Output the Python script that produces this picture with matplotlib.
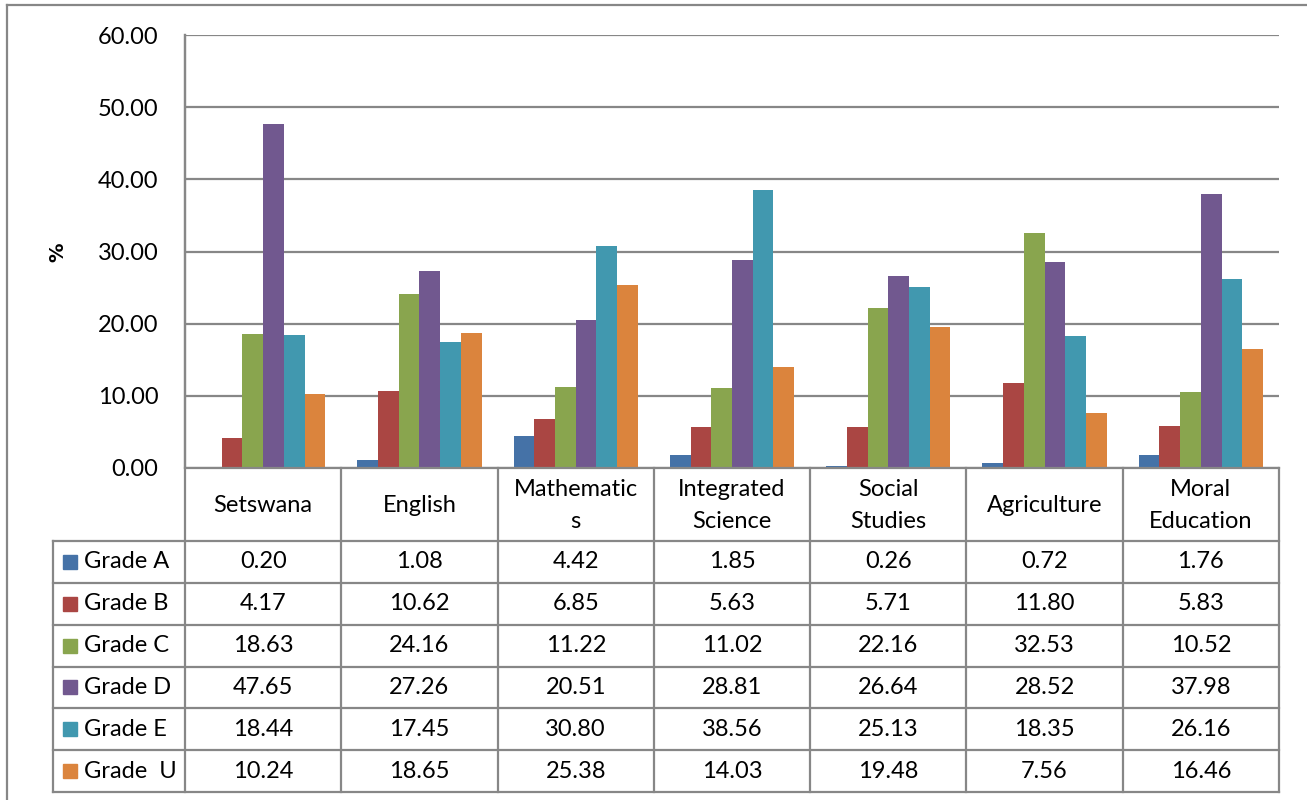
import matplotlib
matplotlib.use("Agg")
import matplotlib.pyplot as plt
from matplotlib.lines import Line2D
from matplotlib.patches import Rectangle
import numpy as np

plt.rcParams['font.family'] = ['Lato', 'DejaVu Sans']

subjects = ["Setswana", "English", "Mathematic\ns", "Integrated\nScience",
            "Social\nStudies", "Agriculture", "Moral\nEducation"]
grades = ["Grade A", "Grade B", "Grade C", "Grade D", "Grade E", "Grade  U"]
grade_a = [0.20, 1.08, 4.42, 1.85, 0.26, 0.72, 1.76]
grade_b = [4.17, 10.62, 6.85, 5.63, 5.71, 11.80, 5.83]
grade_c = [18.63, 24.16, 11.22, 11.02, 22.16, 32.53, 10.52]
grade_d = [47.65, 27.26, 20.51, 28.81, 26.64, 28.52, 37.98]
grade_e = [18.44, 17.45, 30.80, 38.56, 25.13, 18.35, 26.16]
grade_u = [10.24, 18.65, 25.38, 14.03, 19.48, 7.56, 16.46]
series = [grade_a, grade_b, grade_c, grade_d, grade_e, grade_u]
colors = ["#4572A7", "#AA4643", "#89A54E", "#71588F", "#4198AF", "#DB843D"]
yticks = [0, 10, 20, 30, 40, 50, 60]

W, H = 1307, 800
FS = 17
fig = plt.figure(figsize=(W / 100, H / 100), dpi=100)

def fx(x):
    return x / W

def fy(y):
    return 1 - y / H

grid_col = "#878787"
lw = 1.6

# plot area
L, R, T, B = 185, 1279, 35, 468
ax = fig.add_axes([fx(L), fy(B), fx(R - L), fy(T) - fy(B)])
n = len(subjects)
x = np.arange(n)
bw = 0.1325
for i, (vals, c) in enumerate(zip(series, colors)):
    ax.bar(x + (i - 2.5) * bw, vals, width=bw, color=c, zorder=3)
ax.set_xlim(-0.5, n - 0.5)
ax.set_ylim(0, 60)
ax.set_yticks(yticks)
ax.set_yticklabels([f"{v:.2f}" for v in yticks], fontsize=FS)
ax.set_xticks([])
ax.tick_params(axis='y', length=0, pad=19)
ax.grid(axis='y', color=grid_col, linewidth=lw, zorder=0)
for s in ["top", "right", "bottom"]:
    ax.spines[s].set_visible(False)
ax.spines["left"].set_color(grid_col)
ax.spines["left"].set_linewidth(lw)
fig.text(fx(58), fy(252), "%", rotation=90, ha="center", va="center",
         fontsize=14, fontweight="bold", family="DejaVu Sans")

# outer chart frame (top and left visible)
fig.add_artist(Line2D([fx(7), fx(W + 5)], [fy(5), fy(5)], color=grid_col, lw=lw))
fig.add_artist(Line2D([fx(7), fx(7)], [fy(5), fy(H + 5)], color=grid_col, lw=lw))

# data table
col_w = (R - L) / n
header_bottom = 541
row_h = (792 - header_bottom) / len(grades)
legend_left = 53
table_bottom = 792

def hline(x0, x1, y):
    fig.add_artist(Line2D([fx(x0), fx(x1)], [fy(y), fy(y)], color=grid_col, lw=lw))

def vline(x, y0, y1):
    fig.add_artist(Line2D([fx(x), fx(x)], [fy(y0), fy(y1)], color=grid_col, lw=lw))

hline(L, R, B)
for k in range(len(grades) + 1):
    hline(legend_left, R, header_bottom + k * row_h)
for j in range(n + 1):
    vline(L + j * col_w, B if j > 0 else T, table_bottom)
vline(legend_left, header_bottom, table_bottom)

for j, name in enumerate(subjects):
    cx = L + (j + 0.5) * col_w
    fig.text(fx(cx), fy((B + header_bottom) / 2 + 1), name, ha="center", va="center",
             fontsize=FS, linespacing=1.6)

for k, (g, vals, c) in enumerate(zip(grades, series, colors)):
    cy = header_bottom + (k + 0.5) * row_h
    fig.add_artist(Rectangle((fx(63), fy(cy + 7)), fx(14), fy(cy - 7) - fy(cy + 7),
                             color=c, transform=fig.transFigure))
    fig.text(fx(84), fy(cy), g, ha="left", va="center", fontsize=FS)
    for j, v in enumerate(vals):
        cx = L + (j + 0.5) * col_w
        fig.text(fx(cx), fy(cy), f"{v:.2f}", ha="center", va="center", fontsize=FS)

fig.savefig("out.png", dpi=100, facecolor="white")
